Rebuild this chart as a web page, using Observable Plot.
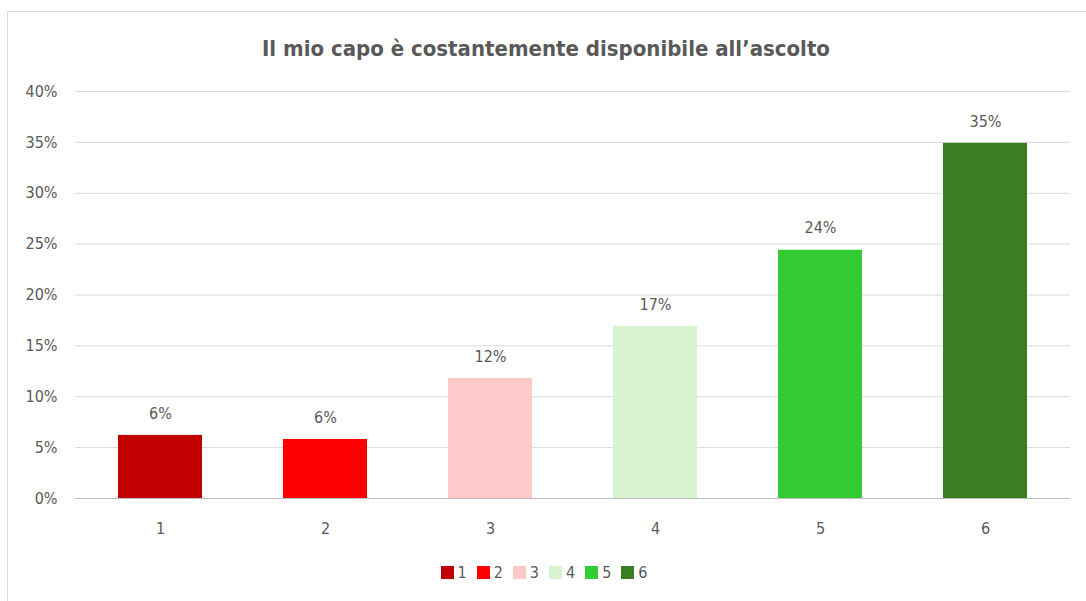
<!DOCTYPE html>
<html>
<head>
<meta charset="utf-8">
<script src="https://cdn.jsdelivr.net/npm/d3@7"></script>
<script src="https://cdn.jsdelivr.net/npm/@observablehq/plot@0.6"></script>
<style>
  html, body { margin: 0; padding: 0; background: #fff; }
  #frame {
    position: absolute; left: 7px; top: 11px; width: 1090px; height: 600px;
    border: 1px solid #d9d9d9; box-sizing: border-box; background: #fff;
  }
  #title {
    height: 59px; line-height: 74px; text-align: center;
    font-family: "Liberation Sans Narrow", "DejaVu Sans Condensed", "Roboto", sans-serif;
    font-weight: bold; font-size: 22px; color: #595959; padding-right: 12px;
  }
  #legend {
    display: flex; justify-content: center; gap: 10px; margin-top: 22px;
    font-family: "DejaVu Sans Condensed", "Roboto", sans-serif; font-size: 16px; color: #595959;
    padding-right: 16px;
  }
  .item { display: flex; align-items: center; gap: 4px; }
  .sw { width: 13px; height: 13px; display: inline-block; }
</style>
</head>
<body>
<div id="frame">
  <div id="title"></div>
  <div id="chart"></div>
  <div id="legend"></div>
</div>
<script>
const titleText = "Il mio capo è costantemente disponibile all’ascolto";
const categories = ["1", "2", "3", "4", "5", "6"];
const values = [0.062, 0.058, 0.118, 0.169, 0.244, 0.349];
const labels = ["6%", "6%", "12%", "17%", "24%", "35%"];
const colors = ["#C00000", "#FF0000", "#FFC9C9", "#D9F2D0", "#33CC33", "#3A7D22"];
const yTicks = [0, 0.05, 0.10, 0.15, 0.20, 0.25, 0.30, 0.35, 0.40];

document.getElementById("title").textContent = titleText;

const data = categories.map((c, i) => ({cat: c, value: values[i], label: labels[i]}));

const chart = Plot.plot({
  width: 1078,
  height: 470,
  marginTop: 20,
  marginBottom: 43,
  marginLeft: 67,
  marginRight: 16,
  style: {fontFamily: "'DejaVu Sans Condensed', Roboto, sans-serif", fontSize: "16px", color: "#595959", background: "transparent"},
  x: {domain: categories, paddingInner: 0.49, paddingOuter: 0.26, label: null},
  y: {domain: [0, 0.40], label: null},
  color: {domain: categories, range: colors},
  marks: [
    Plot.gridY(yTicks, {stroke: "#d9d9d9", strokeOpacity: 1, strokeWidth: 1}),
    Plot.ruleY([0], {stroke: "#bfbfbf", strokeWidth: 1}),
    Plot.barY(data, {x: "cat", y: "value", fill: "cat", style: {filter: "drop-shadow(0px 0px 1.5px rgba(0,0,0,0.25))"}}),
    Plot.text(data, {x: "cat", y: "value", text: "label", dy: -22, fill: "#595959", fontSize: 16}),
    Plot.axisX({tickSize: 0, tickPadding: 24, label: null, fill: "#595959", fontSize: 16}),
    Plot.axisY({ticks: yTicks, tickFormat: d3.format(".0%"), tickSize: 0, tickPadding: 18, label: null, fill: "#595959", fontSize: 16})
  ]
});
document.getElementById("chart").appendChild(chart);

const legend = document.getElementById("legend");
categories.forEach((c, i) => {
  const it = document.createElement("div");
  it.className = "item";
  const sw = document.createElement("span");
  sw.className = "sw";
  sw.style.background = colors[i];
  const t = document.createElement("span");
  t.textContent = c;
  it.appendChild(sw); it.appendChild(t);
  legend.appendChild(it);
});
</script>
</body>
</html>
